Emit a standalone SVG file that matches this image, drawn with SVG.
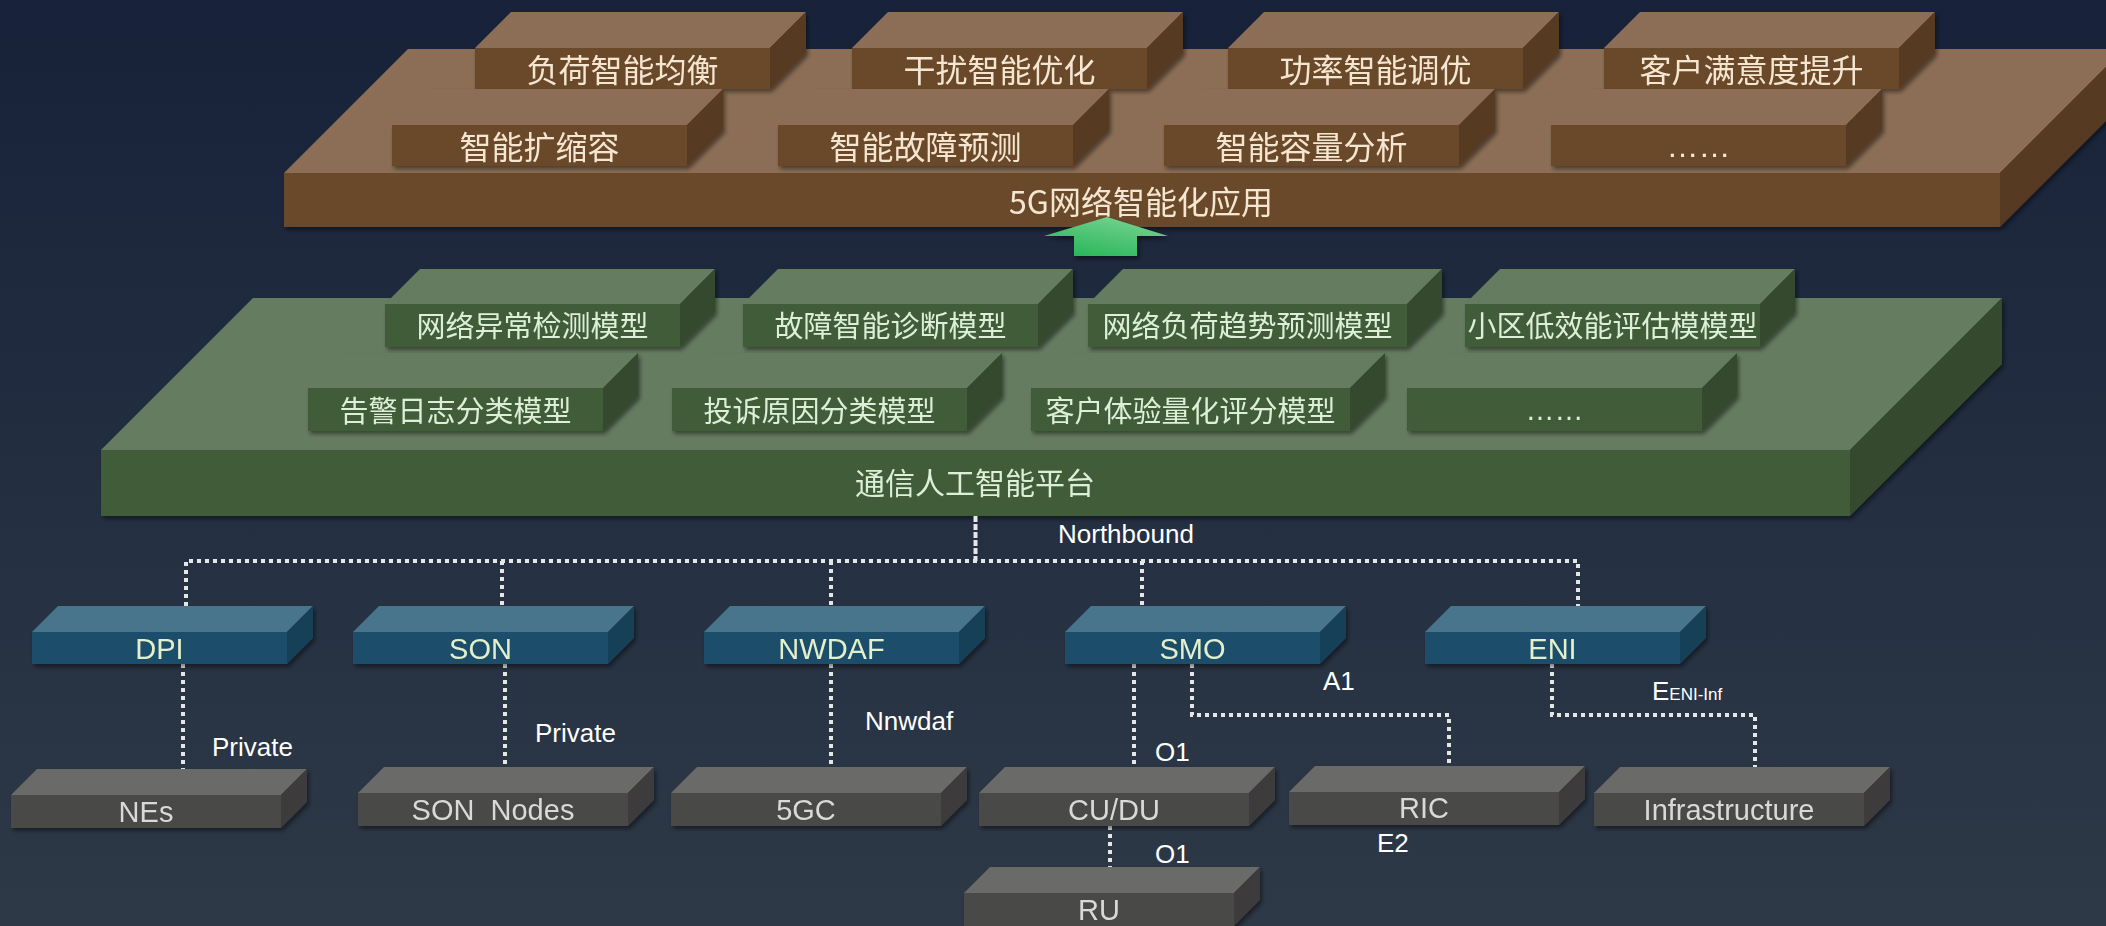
<svg xmlns="http://www.w3.org/2000/svg" width="2106" height="926" viewBox="0 0 2106 926">
<defs>
<linearGradient id="bg" x1="0" y1="0" x2="0" y2="1">
<stop offset="0" stop-color="#17223A"/>
<stop offset="1" stop-color="#2E3947"/>
</linearGradient>
<linearGradient id="arr" x1="0.8" y1="0" x2="0.2" y2="1">
<stop offset="0" stop-color="#78D390"/>
<stop offset="1" stop-color="#28B65A"/>
</linearGradient>
<filter id="sh" x="-5%" y="-10%" width="115%" height="140%">
<feDropShadow dx="2" dy="3" stdDeviation="2" flood-color="#000" flood-opacity="0.45"/>
</filter>
<g id="brownBox">
<polygon class="bt" points="0,0 36,-36 331,-36 295,0"/>
<rect class="bf" x="0" y="0" width="295" height="41"/>
<polygon class="bs" points="295,0 331,-36 331,5 295,41"/>
</g>
<g id="greenBox">
<polygon class="gt" points="0,0 35,-35 330,-35 295,0"/>
<rect class="gf" x="0" y="0" width="295" height="43"/>
<polygon class="gs" points="295,0 330,-35 330,8 295,43"/>
</g>
<g id="greenWide">
<polygon class="gt" points="0,0 35,-35 354,-35 319,0"/>
<rect class="gf" x="0" y="0" width="319" height="43"/>
<polygon class="gs" points="319,0 354,-35 354,8 319,43"/>
</g>
<g id="blueBox">
<polygon class="ut" points="0,0 26,-26 281,-26 255,0"/>
<rect class="uf" x="0" y="0" width="255" height="32"/>
<polygon class="us" points="255,0 281,-26 281,6 255,32"/>
</g>
<g id="grayBox">
<polygon class="yt" points="0,0 26,-26 296,-26 270,0"/>
<rect class="yf" x="0" y="0" width="270" height="33"/>
<polygon class="ys" points="270,0 296,-26 296,7 270,33"/>
</g>
</defs>
<style>
.bt{fill:#8B6E54}.bf{fill:#6B4A29}.bs{fill:#563A20}
.gt{fill:#667C60}.gf{fill:#405B39}.gs{fill:#344A2E}
.ut{fill:#4A758C}.uf{fill:#1B4E6B}.us{fill:#163F58}
.yt{fill:#6B6A68}.yf{fill:#4A4847}.ys{fill:#3C3B3A}
.sh{filter:url(#sh)}
.cb{font-family:"Noto Sans CJK SC","Liberation Sans",sans-serif;font-size:32px;fill:#F5E6D2;text-anchor:middle}
.cg{font-family:"Noto Sans CJK SC","Liberation Sans",sans-serif;font-size:29px;fill:#DDEFD6;text-anchor:middle}
.eb{font-family:"Liberation Sans",sans-serif;font-size:32px;fill:#F5E6D2;text-anchor:middle}
.eg{font-family:"Liberation Sans",sans-serif;font-size:29px;fill:#DDEFD6;text-anchor:middle}
.tu{font-family:"Liberation Sans",sans-serif;font-size:29px;fill:#E2F0CC;text-anchor:middle}
.ty{font-family:"Liberation Sans",sans-serif;font-size:29px;fill:#D9D9D9;text-anchor:middle;white-space:pre}
.lb{font-family:"Liberation Sans",sans-serif;font-size:26px;fill:#FFFFFF}
.dl{fill:none;stroke:#E6E6E6;stroke-width:4;stroke-dasharray:4 4}
.dt{fill:none;stroke:#E6E6E6;stroke-width:4;stroke-dasharray:6 2}
</style>
<rect x="0" y="0" width="2106" height="926" fill="url(#bg)"/>

<g id="platform-5g" class="sh">
<polygon class="bt" points="284,173 408,49 2124,49 2000,173"/>
<rect class="bf" x="284" y="173" width="1716" height="54"/>
<polygon class="bs" points="2000,173 2124,49 2124,103 2000,227"/>
<text class="cb" x="1141" y="214">5G网络智能化应用</text>
</g>

<g id="app-row1">
<g id="n-load" class="sh" transform="translate(475,48)"><use href="#brownBox"/><text class="cb" x="147.5" y="34">负荷智能均衡</text></g>
<g id="n-interf" class="sh" transform="translate(852,48)"><use href="#brownBox"/><text class="cb" x="147.5" y="34">干扰智能优化</text></g>
<g id="n-power" class="sh" transform="translate(1228,48)"><use href="#brownBox"/><text class="cb" x="147.5" y="34">功率智能调优</text></g>
<g id="n-satisf" class="sh" transform="translate(1604,48)"><use href="#brownBox"/><text class="cb" x="147.5" y="34">客户满意度提升</text></g>
</g>
<g id="app-row2">
<g id="n-scale" class="sh" transform="translate(392,125)"><use href="#brownBox"/><text class="cb" x="147.5" y="34">智能扩缩容</text></g>
<g id="n-fault" class="sh" transform="translate(778,125)"><use href="#brownBox"/><text class="cb" x="147.5" y="34">智能故障预测</text></g>
<g id="n-capacity" class="sh" transform="translate(1164,125)"><use href="#brownBox"/><text class="cb" x="147.5" y="34">智能容量分析</text></g>
<g id="n-more1" class="sh" transform="translate(1551,125)"><use href="#brownBox"/><text class="eb" x="147.5" y="32">……</text></g>
</g>

<g id="platform-ai" class="sh">
<polygon class="gt" points="101,450 253,298 2002,298 1850,450"/>
<rect class="gf" x="101" y="450" width="1749" height="66"/>
<polygon class="gs" points="1850,450 2002,298 2002,364 1850,516"/>
<text class="cg" style="font-size:30px" x="975" y="494">通信人工智能平台</text>
</g>

<g id="model-row1">
<g id="m-anomaly" class="sh" transform="translate(385,304)"><use href="#greenBox"/><text class="cg" x="147.5" y="33">网络异常检测模型</text></g>
<g id="m-diag" class="sh" transform="translate(743,304)"><use href="#greenBox"/><text class="cg" x="147.5" y="33">故障智能诊断模型</text></g>
<g id="m-trend" class="sh" transform="translate(1088,304)"><use href="#greenWide"/><text class="cg" x="159.5" y="33">网络负荷趋势预测模型</text></g>
<g id="m-cell" class="sh" transform="translate(1465,304)"><use href="#greenBox"/><text class="cg" x="147.5" y="33">小区低效能评估模模型</text></g>
</g>
<g id="model-row2">
<g id="m-alarm" class="sh" transform="translate(308,388)"><use href="#greenBox"/><text class="cg" x="147.5" y="34">告警日志分类模型</text></g>
<g id="m-complaint" class="sh" transform="translate(672,388)"><use href="#greenBox"/><text class="cg" x="147.5" y="34">投诉原因分类模型</text></g>
<g id="m-experience" class="sh" transform="translate(1031,388)"><use href="#greenWide"/><text class="cg" x="159.5" y="34">客户体验量化评分模型</text></g>
<g id="m-more2" class="sh" transform="translate(1407,388)"><use href="#greenBox"/><text class="eg" x="147.5" y="32">……</text></g>
</g>

<g id="up-arrow" class="sh">
<polygon points="1107,217 1168,236 1137,236 1137,256 1074,256 1074,236 1044,236" fill="url(#arr)"/>
</g>

<g id="connectors">
<polyline class="dt" points="975.5,516 975.5,561"/>
<polyline class="dl" points="186,606 186,561 1578,561 1578,606"/>
<polyline class="dl" points="502,561 502,606"/>
<polyline class="dl" points="831,561 831,606"/>
<polyline class="dl" points="1142,561 1142,606"/>
<polyline class="dl" points="183,664 183,769"/>
<polyline class="dl" points="505,664 505,767"/>
<polyline class="dl" points="831,664 831,767"/>
<polyline class="dl" points="1134,664 1134,767"/>
<polyline class="dl" points="1192,664 1192,715 1449,715 1449,766"/>
<polyline class="dl" points="1552,664 1552,715 1755,715 1755,767"/>
<polyline class="dl" points="1110,826 1110,867"/>
<text class="lb" x="1058" y="543">Northbound</text>
<text class="lb" x="212" y="756">Private</text>
<text class="lb" x="535" y="742">Private</text>
<text class="lb" x="865" y="730">Nnwdaf</text>
<text class="lb" x="1323" y="690">A1</text>
<text class="lb" x="1155" y="761">O1</text>
<text class="lb" x="1652" y="700">E<tspan style="font-size:17px">ENI-Inf</tspan></text>
<text class="lb" x="1377" y="852">E2</text>
<text class="lb" x="1155" y="863">O1</text>
</g>

<g id="b-dpi" class="sh" transform="translate(32,632)"><use href="#blueBox"/><text class="tu" x="127.5" y="26.5">DPI</text></g>
<g id="b-son" class="sh" transform="translate(353,632)"><use href="#blueBox"/><text class="tu" x="127.5" y="26.5">SON</text></g>
<g id="b-nwdaf" class="sh" transform="translate(704,632)"><use href="#blueBox"/><text class="tu" x="127.5" y="26.5">NWDAF</text></g>
<g id="b-smo" class="sh" transform="translate(1065,632)"><use href="#blueBox"/><text class="tu" x="127.5" y="26.5">SMO</text></g>
<g id="b-eni" class="sh" transform="translate(1425,632)"><use href="#blueBox"/><text class="tu" x="127.5" y="26.5">ENI</text></g>

<g id="g-nes" class="sh" transform="translate(11,795)"><use href="#grayBox"/><text class="ty" x="135" y="27">NEs</text></g>
<g id="g-sonnodes" class="sh" transform="translate(358,793)"><use href="#grayBox"/><text class="ty" x="135" y="27" xml:space="preserve">SON  Nodes</text></g>
<g id="g-5gc" class="sh" transform="translate(671,793)"><use href="#grayBox"/><text class="ty" x="135" y="27">5GC</text></g>
<g id="g-cudu" class="sh" transform="translate(979,793)"><use href="#grayBox"/><text class="ty" x="135" y="27">CU/DU</text></g>
<g id="g-ric" class="sh" transform="translate(1289,792)"><use href="#grayBox"/><text class="ty" x="135" y="26">RIC</text></g>
<g id="g-infra" class="sh" transform="translate(1594,793)"><use href="#grayBox"/><text class="ty" x="135" y="27">Infrastructure</text></g>
<g id="g-ru" class="sh" transform="translate(964,893)"><use href="#grayBox"/><text class="ty" x="135" y="27">RU</text></g>
</svg>
